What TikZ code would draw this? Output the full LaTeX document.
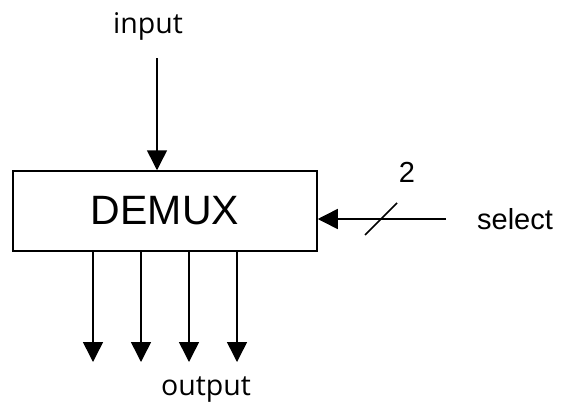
\documentclass[tikz,border=0pt]{standalone}
\usepackage{fontspec}
\setmainfont{Liberation Sans}
\newfontfamily\labelfont{Open Sans}
\usetikzlibrary{arrows.meta,calc}
\tikzset{
  demuxbox/.style={draw,line width=1.5pt,minimum width=304pt,minimum height=80pt,
    inner sep=0pt,font=\fontsize{41}{49}\selectfont},
  sig/.style={-{Triangle[length=20pt,width=20pt]},line width=1.5pt},
  pinlabel/.style={inner sep=0pt,font=\labelfont\fontsize{28.5}{34}\selectfont},
  sellabel/.style={inner sep=0pt,font=\fontsize{29}{35}\selectfont},
}
\begin{document}
\begin{tikzpicture}[x=1pt,y=-1pt]
  \useasboundingbox (0,0) rectangle (569,410);
  \node[demuxbox] (demux) at (165,211) {DEMUX};
  % input
  \node[pinlabel] (inlbl) at (148,26) {input};
  \coordinate (intop) at (157,58);
  \draw[sig] (intop) -- (intop |- demux.north);
  % select, 2 bits
  \node[sellabel] (sellbl) at (515,219) {select};
  \node[sellabel] (selbits) at (407,172) {2};
  \coordinate (selend) at (446,219);
  \coordinate (slash) at (381,219);
  \draw[sig] (selend) -- (selend -| demux.east);
  \draw[line width=1.5pt] ([shift={(-16,16)}]slash) -- ([shift={(16,-16)}]slash);
  % outputs
  \foreach \x [count=\i] in {93,141,189,237} {
    \coordinate (out\i) at (\x,362);
    \draw[sig] (out\i |- demux.south) -- (out\i);
  }
  \node[pinlabel] (outlbl) at (206,390) {output};
\end{tikzpicture}
\end{document}
